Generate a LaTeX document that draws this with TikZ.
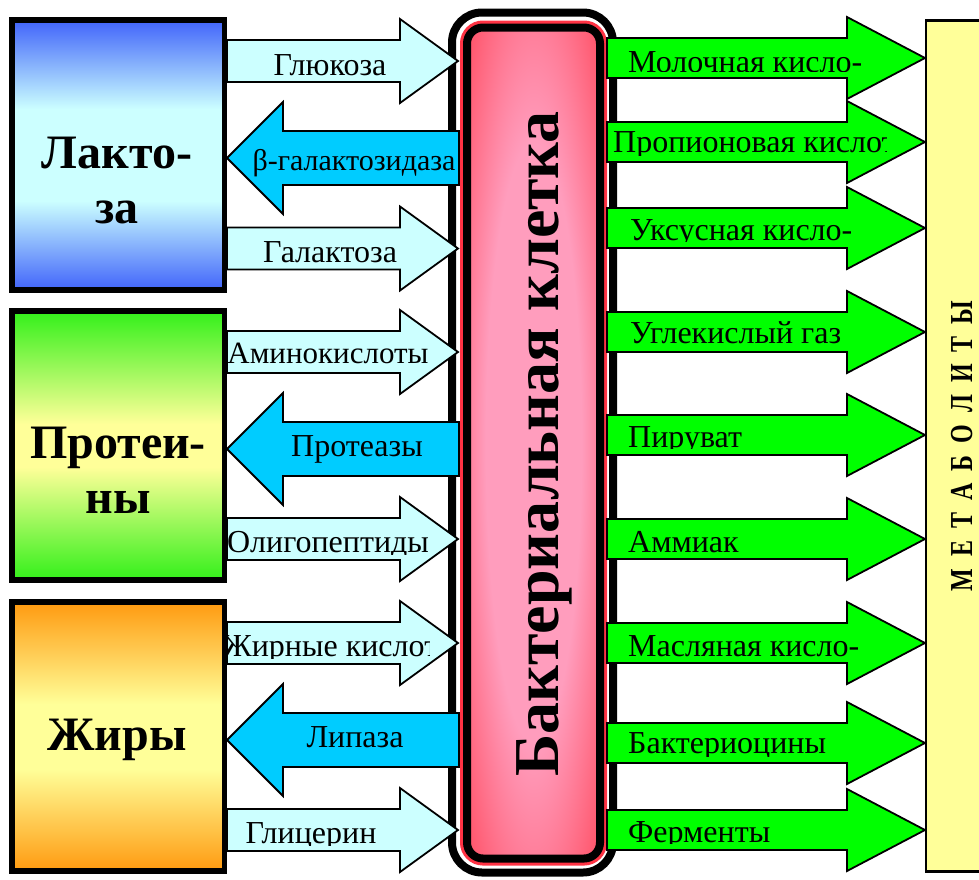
\documentclass[tikz,border=0pt]{standalone}
\usepackage{fontspec}
\setmainfont{Liberation Serif}
\definecolor{lcyan}{HTML}{CCFFFF}
\definecolor{mcyan}{HTML}{00CCFF}
\definecolor{grn}{HTML}{00FF00}
\definecolor{ylw}{HTML}{FFFF99}
\definecolor{lacblue}{HTML}{4164FA}
\definecolor{laclight}{HTML}{CCFFFF}
\definecolor{protgreen}{HTML}{33F01A}
\definecolor{fatorange}{HTML}{FF9A10}
\definecolor{cellred}{HTML}{FF3344}
\definecolor{cellpink}{HTML}{FF9DBD}
\pgfdeclareverticalshading{lacshade}{100bp}{color(0bp)=(lacblue); color(25bp)=(lacblue); color(41.5bp)=(laclight); color(58.5bp)=(laclight); color(75bp)=(lacblue); color(100bp)=(lacblue)}
\pgfdeclareverticalshading{protshade}{100bp}{color(0bp)=(protgreen); color(25bp)=(protgreen); color(46bp)=(ylw); color(54bp)=(ylw); color(75bp)=(protgreen); color(100bp)=(protgreen)}
\pgfdeclareverticalshading{fatshade}{100bp}{color(0bp)=(fatorange); color(25bp)=(fatorange); color(44bp)=(ylw); color(56bp)=(ylw); color(75bp)=(fatorange); color(100bp)=(fatorange)}
\pgfdeclareradialshading{cellshade}{\pgfpoint{0bp}{0bp}}{color(0bp)=(cellpink); color(18bp)=(cellpink); color(30bp)=(cellpink!50!cellred); color(42bp)=(cellred); color(50bp)=(cellred)}
\tikzset{
  inarr/.style={draw=black, line width=1.8pt, fill=lcyan},
  enzarr/.style={draw=black, line width=1.8pt, fill=mcyan},
  outarr/.style={draw=black, line width=1.8pt, fill=grn},
  lbl/.style={font=\fontsize{32}{38}\selectfont, inner sep=0pt},
  boxlbl/.style={font=\bfseries\fontsize{48}{56}\selectfont, inner sep=0pt},
  srcbox/.style={draw=black, line width=5.5pt, inner sep=0pt, minimum width=212.5pt},
}
% #1 centre y, #2 tail x, #3 head base x, #4 tip x, #5 body half, #6 head half, #7 style
\newcommand\arrowshape[7]{\draw[#7] (#2,{#1-#5}) -- (#3,{#1-#5}) -- (#3,{#1-#6}) -- (#4,#1) -- (#3,{#1+#6}) -- (#3,{#1+#5}) -- (#2,{#1+#5}) -- cycle;}
% #1 name, #2 x1, #3 y1, #4 x2, #5 y2, #6 node options, #7 position, #8 text
\newcommand\cliplabel[8]{\begin{scope}\clip (#2,#3) rectangle (#4,#5);\node[lbl,#6] (#1) at #7 {#8};\end{scope}}
\begin{document}
\begin{tikzpicture}[x=1pt,y=-1pt]
\useasboundingbox (0,0) rectangle (979,879);
\clip (0,0) rectangle (979,879);
\fill[white] (0,0) rectangle (979,879);

% source boxes
\node[srcbox, shading=lacshade, minimum height=270pt] (lac) at (118.25,155) {};
\node[srcbox, shading=protshade, minimum height=269pt] (prot) at (118.25,445.5) {};
\node[srcbox, shading=fatshade, minimum height=269pt] (fat) at (118.25,736.5) {};
\node[boxlbl, anchor=base] (lac1) at (117,168) {Лакто-};
\node[boxlbl, anchor=base] (lac2) at (117,223) {за};
\node[boxlbl, anchor=base] (prot1) at (118,458) {Протеи-};
\node[boxlbl, anchor=base] (prot2) at (118,513) {ны};
\node[boxlbl, anchor=base] (fat1) at (117,750) {Жиры};

% bacterial cell
\draw[black, line width=8pt, rounded corners=30pt] (452,12.5) rectangle (613,872.5);
\draw[cellred, line width=14pt, rounded corners=16pt] (467,27.5) rectangle (600,858.5);
\path[shading=cellshade, rounded corners=16pt] (467,27.5) rectangle (600,858.5);
\draw[black, line width=8pt, rounded corners=16pt] (467,27.5) rectangle (600,858.5);
\node[font=\bfseries\fontsize{64}{70}\selectfont, rotate=90, anchor=base, inner sep=0pt] (cell) at (558,444) {Бактериальная клетка};

% metabolites box
\draw[fill=ylw, line width=2.5pt] (926,20.5) rectangle (995,871.5);
\node[rotate=90, anchor=base, inner sep=0pt, font=\bfseries\fontsize{32}{32}\selectfont] (met) at (972,446)
  {\scalebox{0.75}[1]{М\hspace{16pt}Е\hspace{16pt}Т\hspace{16pt}А\hspace{16pt}Б\hspace{16pt}О\hspace{16pt}Л\hspace{16pt}И\hspace{16pt}Т\hspace{16pt}Ы}};

% arrows into the cell
\arrowshape{61}{227}{400}{458}{21}{42}{inarr}
\arrowshape{248.5}{227}{400}{458}{21}{42}{inarr}
\arrowshape{352}{227}{400}{458}{21}{42}{inarr}
\arrowshape{539}{227}{400}{458}{21}{42}{inarr}
\arrowshape{643}{227}{400}{458}{21}{42}{inarr}
\arrowshape{830}{227}{400}{458}{21}{42}{inarr}
\cliplabel{glc}{227}{40}{429}{76}{anchor=base}{(330,75)}{Глюкоза}
\cliplabel{gal}{227}{227.5}{429}{263.5}{anchor=base}{(330,262)}{Галактоза}
\cliplabel{ami}{227}{331}{429}{367}{anchor=base, font=\fontsize{31}{38}\selectfont}{(328,363)}{Аминокислоты}
\cliplabel{oli}{227}{518}{429}{554}{anchor=base}{(328,552)}{Олигопептиды}
\cliplabel{fa}{227}{622}{429}{658}{anchor=base west}{(223,656)}{Жирные кислоты}
\cliplabel{gly}{227}{809}{429}{845}{anchor=base}{(311,843)}{Глицерин}

% enzymes out of the cell
\arrowshape{158}{459}{283}{227}{27}{56}{enzarr}
\arrowshape{449}{459}{283}{227}{27}{56}{enzarr}
\arrowshape{740}{459}{283}{227}{27}{56}{enzarr}
\cliplabel{bgal}{250}{131}{459}{180}{anchor=base, font=\fontsize{30}{36}\selectfont}{(354,170)}{β-галактозидаза}
\cliplabel{prt}{255}{422}{459}{471}{anchor=base}{(357,456)}{Протеазы}
\cliplabel{lip}{255}{713}{459}{762}{anchor=base}{(355,747)}{Липаза}

% metabolites out of the cell
\arrowshape{58}{607}{847}{925}{20}{41}{outarr}
\arrowshape{142}{607}{847}{925}{20}{41}{outarr}
\arrowshape{228}{607}{847}{925}{20}{41}{outarr}
\arrowshape{332}{607}{847}{925}{20}{41}{outarr}
\arrowshape{435}{607}{847}{925}{20}{41}{outarr}
\arrowshape{539}{607}{847}{925}{20}{41}{outarr}
\arrowshape{643}{607}{847}{925}{20}{41}{outarr}
\arrowshape{743}{607}{847}{925}{20}{41}{outarr}
\arrowshape{830}{607}{847}{925}{20}{41}{outarr}
\cliplabel{m1}{607}{38}{886}{71}{anchor=base west}{(628,72)}{Молочная кисло-}
\cliplabel{m2}{607}{122}{886}{155}{anchor=base west}{(613,152)}{Пропионовая кислота}
\cliplabel{m3}{607}{208}{886}{241}{anchor=base west}{(630,240)}{Уксусная кисло-}
\cliplabel{m4}{607}{312}{886}{345}{anchor=base west}{(630,343)}{Углекислый газ}
\cliplabel{m5}{607}{415}{886}{448}{anchor=base west}{(628,447)}{Пируват}
\cliplabel{m6}{607}{519}{886}{552}{anchor=base west}{(628,552)}{Аммиак}
\cliplabel{m7}{607}{623}{886}{656}{anchor=base west}{(628,656)}{Масляная кисло-}
\cliplabel{m8}{607}{723}{886}{756}{anchor=base west}{(628,753)}{Бактериоцины}
\cliplabel{m9}{607}{810}{886}{843}{anchor=base west}{(628,842)}{Ферменты}
\end{tikzpicture}
\end{document}
